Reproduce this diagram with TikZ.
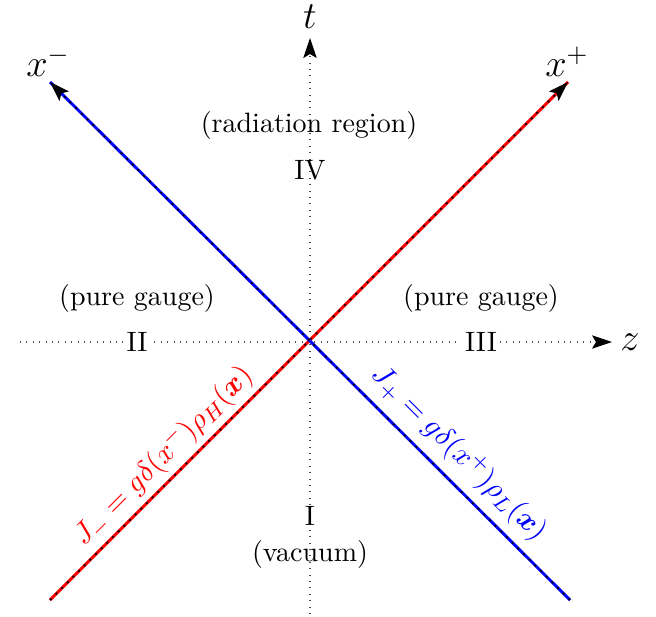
\documentclass[tikz,border=0pt]{standalone}
\usepackage{amsmath,bm}
\usetikzlibrary{arrows.meta}
\begin{document}
\begin{tikzpicture}[x=0.375pt,y=-0.375pt,
  axisdot/.style={dotted,line width=0.4pt,black!70},
  arr/.style={-{Stealth[length=7.5pt,width=5pt,inset=1.5pt,black]}},
  redline/.style={red,line width=1.1pt},
  blueline/.style={blue,line width=1.1pt},
  overlaydots/.style={black,line width=0.6pt,dash pattern=on 0.8pt off 2.2pt},
  lbl/.style={font=\fontsize{10.5}{12}\selectfont},
  jlbl/.style={font=\fontsize{11}{13}\selectfont},
  axlbl/.style={font=\Large}]
\useasboundingbox (0,0) rectangle (656,616);
% coordinates
\coordinate (o) at (310,342);
\coordinate (tb) at (310,614);
\coordinate (tt) at (310,38);
\coordinate (zl) at (20,342);
\coordinate (zr) at (612,342);
\coordinate (pb) at (50,600);
\coordinate (pt) at (568,82);
\coordinate (mb) at (570,600);
\coordinate (mt) at (50,82);
% axes
\draw[axisdot,arr] (tb) -- (tt);
\draw[axisdot,arr] (zl) -- (zr);
\node[axlbl,inner sep=1pt] (tlab) at (310,17) {$t$};
\node[axlbl] (zlab) at (630,342) {$z$};
% light cone lines
\draw[redline] (pb) -- (pt);
\draw[overlaydots,arr] (pb) -- (pt);
\draw[blueline] (mb) -- (mt);
\draw[overlaydots,arr] (mb) -- (mt);
\node[axlbl] (xm) at (48,62) {$x^-$};
\node[axlbl] (xp) at (567,62) {$x^+$};
% region labels
\node[lbl] (rad) at (309,125) {(radiation region)};
\node[lbl] (iv) at (310,170) {IV};
\node[lbl] (pgl) at (137,298) {(pure gauge)};
\node[lbl] (pgr) at (481,298) {(pure gauge)};
\node[lbl,fill=white,inner sep=1pt] (ii) at (137,342) {II};
\node[lbl,fill=white,inner sep=1pt] (iii) at (481,342) {III};
\node[lbl] (i) at (310,516) {I};
\node[lbl] (vac) at (310,554) {(vacuum)};
% current labels
\node[jlbl,red,rotate=45] (jm) at (163,456) {$J_-=g\delta(x^-)\rho_H(\bm{x})$};
\node[jlbl,blue,rotate=-45] (jp) at (459,453) {$J_+=g\delta(x^+)\rho_L(\bm{x})$};
\end{tikzpicture}
\end{document}
